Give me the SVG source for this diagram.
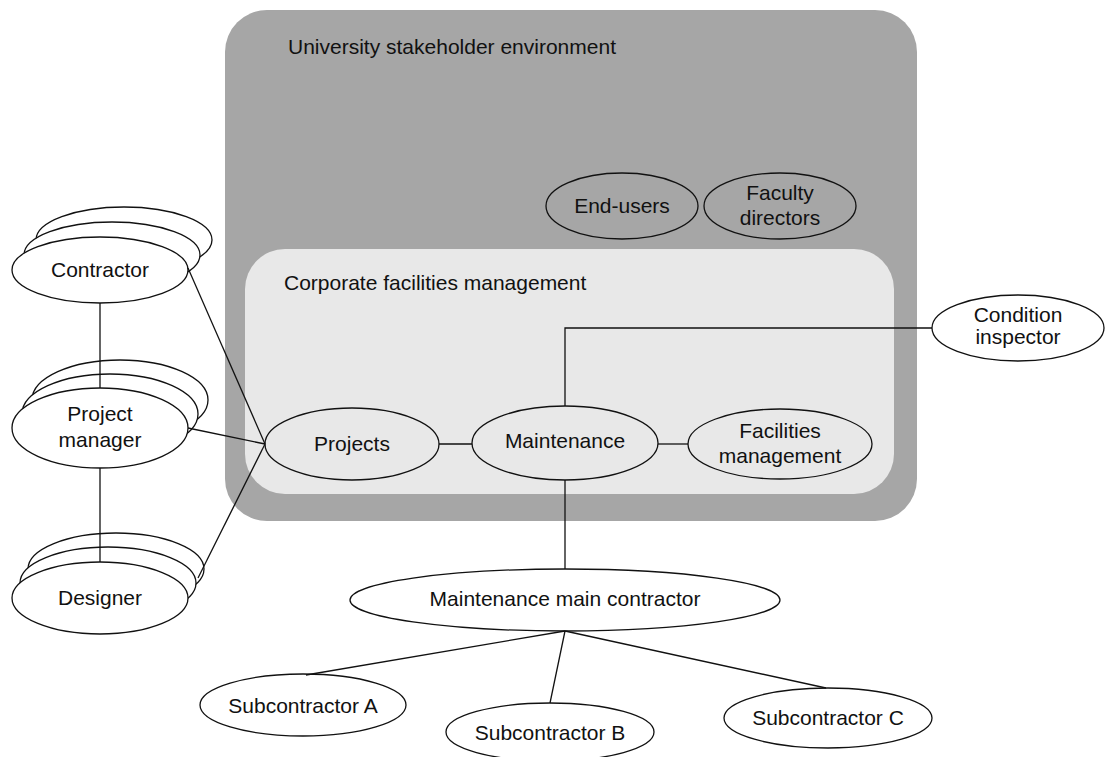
<svg xmlns="http://www.w3.org/2000/svg" width="1107" height="757" viewBox="0 0 1107 757">
<style>
text{font-family:"Liberation Sans",Arial,sans-serif;font-size:21px;fill:#111;}
.c{text-anchor:middle;}
.n{fill:#fff;stroke:#111;stroke-width:1.3;}
.t{fill:none;stroke:#111;stroke-width:1.3;}
.l{stroke:#111;stroke-width:1.3;fill:none;}
</style>
<rect x="0" y="0" width="1107" height="757" fill="#fff"/>
<g id="university">
<rect x="225" y="10" width="692" height="511" rx="42" ry="42" fill="#a6a6a6"/>
<text x="288" y="54">University stakeholder environment</text>
</g>
<g id="corporate">
<rect x="245" y="249" width="649" height="245" rx="40" ry="40" fill="#e8e8e8"/>
<text x="284" y="290">Corporate facilities management</text>
</g>
<g id="end-users">
<ellipse class="t" cx="622" cy="206" rx="76" ry="33"/>
<text class="c" x="622" y="213">End-users</text>
</g>
<g id="faculty-directors">
<ellipse class="t" cx="780" cy="206" rx="76" ry="33"/>
<text class="c" x="780" y="200">Faculty</text>
<text class="c" x="780" y="225">directors</text>
</g>
<g id="projects">
<ellipse class="t" cx="352" cy="444" rx="87" ry="36"/>
<text class="c" x="352" y="451">Projects</text>
</g>
<g id="maintenance">
<ellipse class="t" cx="565" cy="443" rx="93" ry="37"/>
<text class="c" x="565" y="448">Maintenance</text>
</g>
<g id="facilities-management">
<ellipse class="t" cx="780" cy="444" rx="92" ry="35"/>
<text class="c" x="780" y="438">Facilities</text>
<text class="c" x="780" y="463">management</text>
</g>
<g id="condition-inspector">
<ellipse class="n" cx="1018" cy="328" rx="86" ry="33"/>
<text class="c" x="1018" y="322">Condition</text>
<text class="c" x="1018" y="344">inspector</text>
</g>
<g id="contractor">
<ellipse class="n" cx="124" cy="240" rx="88" ry="33"/>
<ellipse class="n" cx="112" cy="255" rx="88" ry="33"/>
<ellipse class="n" cx="100" cy="270" rx="88" ry="33"/>
<text class="c" x="100" y="277">Contractor</text>
</g>
<g id="project-manager">
<ellipse class="n" cx="120" cy="400" rx="88" ry="40"/>
<ellipse class="n" cx="110" cy="414" rx="88" ry="40"/>
<ellipse class="n" cx="100" cy="428" rx="88" ry="40"/>
<text class="c" x="100" y="421">Project</text>
<text class="c" x="100" y="447">manager</text>
</g>
<g id="designer">
<ellipse class="n" cx="116" cy="569" rx="88" ry="36"/>
<ellipse class="n" cx="108" cy="583" rx="88" ry="36"/>
<ellipse class="n" cx="100" cy="598" rx="88" ry="36"/>
<text class="c" x="100" y="605">Designer</text>
</g>
<g id="maintenance-main-contractor">
<ellipse class="n" cx="565" cy="600" rx="215" ry="31"/>
<text class="c" x="565" y="606">Maintenance main contractor</text>
</g>
<g id="subcontractor-a">
<ellipse class="n" cx="303" cy="705" rx="103" ry="31"/>
<text class="c" x="303" y="713">Subcontractor A</text>
</g>
<g id="subcontractor-b">
<ellipse class="n" cx="550" cy="732" rx="104" ry="29"/>
<text class="c" x="550" y="740">Subcontractor B</text>
</g>
<g id="subcontractor-c">
<ellipse class="n" cx="828" cy="718" rx="104" ry="30"/>
<text class="c" x="828" y="725">Subcontractor C</text>
</g>
<g id="connectors">
<line class="l" x1="100" y1="303" x2="100" y2="388"/>
<line class="l" x1="100" y1="468" x2="100" y2="562"/>
<line class="l" x1="188" y1="268" x2="265" y2="444"/>
<line class="l" x1="188" y1="428" x2="265" y2="444"/>
<line class="l" x1="198" y1="578" x2="265" y2="444"/>
<line class="l" x1="439" y1="444" x2="472" y2="444"/>
<line class="l" x1="658" y1="444" x2="688" y2="444"/>
<polyline class="l" points="565,406 565,328 932,328"/>
<line class="l" x1="565" y1="480" x2="565" y2="569"/>
<line class="l" x1="565" y1="631" x2="306" y2="675"/>
<line class="l" x1="565" y1="631" x2="550" y2="703"/>
<line class="l" x1="565" y1="631" x2="826" y2="688"/>
</g>
</svg>
